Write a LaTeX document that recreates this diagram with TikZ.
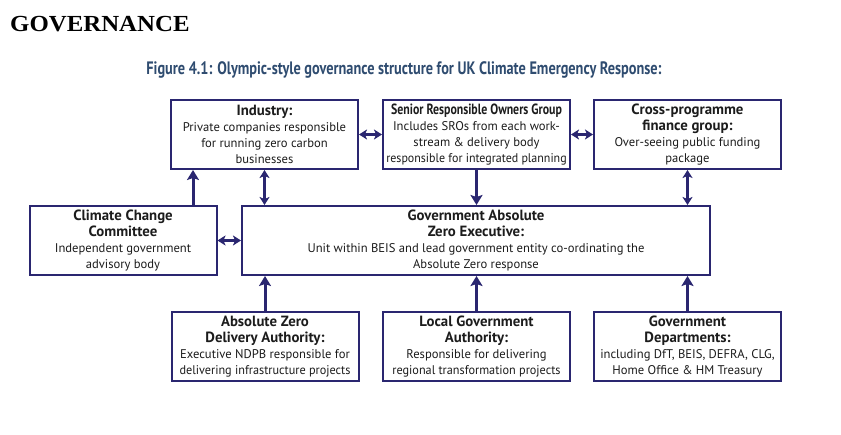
\documentclass[tikz,border=0pt]{standalone}
\usepackage{fontspec}
\setmainfont{PT Sans}
\newfontfamily\headserif{Liberation Serif}
\usetikzlibrary{arrows.meta,positioning}
\definecolor{navy}{RGB}{42,38,112}
\definecolor{capblue}{RGB}{47,76,112}
\definecolor{ink}{RGB}{28,28,28}
\newcommand{\hd}[1]{{\fontsize{14.8}{16}\selectfont\bfseries #1}}
\tikzset{
  govbox/.style={draw=navy, line width=2pt, fill=white, minimum width=187pt,
    minimum height=69pt, align=center, text=ink, inner sep=1pt,
    font=\fontsize{12.6}{16}\selectfont},
  widebox/.style={govbox, minimum width=468pt},
  link/.style={draw=navy, line width=3pt, -{Stealth[length=10pt,width=12pt,inset=2pt]}},
  twoway/.style={draw=navy, line width=3pt,
    {Stealth[length=8pt,width=10pt,inset=2pt]}-{Stealth[length=8pt,width=10pt,inset=2pt]}}
}
\begin{document}
\begin{tikzpicture}[x=1pt,y=-1pt]
\useasboundingbox (0,0) rectangle (841,435);
\node[anchor=base west, inner sep=0pt, font=\headserif\bfseries\fontsize{23}{23}\selectfont] (title) at (10,32) {\scalebox{1.08}[1]{GOVERNANCE}};
\node[anchor=base, text=capblue] (caption) at (404,75)
  {\scalebox{0.795}[1]{\fontsize{18}{18}\selectfont\bfseries Figure 4.1: Olympic-style governance structure for UK Climate Emergency Response:}};

\node[govbox] (ind) at (264.5,134.5) {\hd{Industry:}\\Private companies responsible\\for running zero carbon\\businesses};
\node[govbox] (sro) at (476.5,134.5) {\scalebox{0.8}[1]{\hd{Senior Responsible Owners Group}}\\Includes SROs from each work-\\stream \& delivery body\\\scalebox{0.95}[1]{responsible for integrated planning}};
\node[govbox] (fin) at (687.5,134.5) {\hd{Cross-programme}\\\hd{finance group:}\\Over-seeing public funding\\package};
\node[govbox] (ccc) at (123,240.5) {\hd{Climate Change}\\\hd{Committee}\\Independent government\\advisory body};
\node[widebox] (gaze) at (476,240.5) {\hd{Government Absolute}\\\hd{Zero Executive:}\\Unit within BEIS and lead government entity co-ordinating the\\Absolute Zero response};
\node[govbox] (azda) at (265,347) {\hd{Absolute Zero}\\\hd{Delivery Authority:}\\Executive NDPB responsible for\\\scalebox{0.97}[1]{delivering infrastructure projects}};
\node[govbox] (lga) at (476.5,347) {\hd{Local Government}\\\hd{Authority:}\\Responsible for delivering\\\scalebox{0.97}[1]{regional transformation projects}};
\node[govbox] (gd) at (687.5,347) {\hd{Government}\\\hd{Departments:}\\including DfT, BEIS, DEFRA, CLG,\\Home Office \& HM Treasury};

\coordinate (cccup) at ([xshift=70pt]ccc.north);
\draw[link] (cccup) -- (cccup |- ind.south);
\draw[twoway] (ind) -- (sro);
\draw[twoway] (sro) -- (fin);
\draw[twoway] (ccc) -- (gaze);
\draw[twoway] (ind.south) -- (ind.south |- gaze.north);
\draw[link] (sro.south) -- (sro.south |- gaze.north);
\draw[twoway] (fin.south) -- (fin.south |- gaze.north);
\draw[link] (azda.north) -- (azda.north |- gaze.south);
\draw[link] (lga.north) -- (lga.north |- gaze.south);
\draw[link] (gd.north) -- (gd.north |- gaze.south);
\end{tikzpicture}
\end{document}
